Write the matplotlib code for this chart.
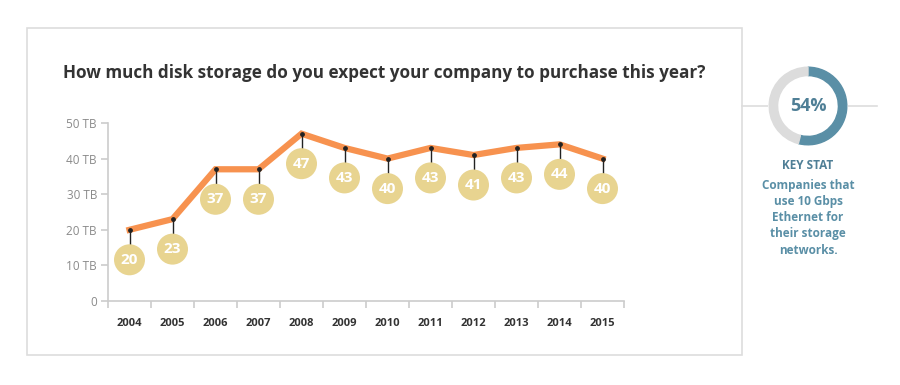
import matplotlib
matplotlib.use("Agg")
import matplotlib.pyplot as plt
from matplotlib.patches import Rectangle, Wedge
from matplotlib.lines import Line2D

plt.rcParams['font.family'] = ['Open Sans', 'DejaVu Sans']

years = ["2004", "2005", "2006", "2007", "2008", "2009",
         "2010", "2011", "2012", "2013", "2014", "2015"]
storage_tb = [20, 23, 37, 37, 47, 43, 40, 43, 41, 43, 44, 40]
yticks = [0, 10, 20, 30, 40, 50]
ytick_labels = ["0", "10 TB", "20 TB", "30 TB", "40 TB", "50 TB"]
key_stat_pct = 54
title = "How much disk storage do you expect your company to purchase this year?"
key_lines = ["Companies that", "use 10 Gbps", "Ethernet for", "their storage", "networks."]

W, H = 900, 385
fig = plt.figure(figsize=(W / 100, H / 100), dpi=100)

def fx(px):
    return px / W

def fy(py):
    return 1 - py / H

# frame
fig.patches.append(Rectangle((fx(27), fy(355)), fx(742) - fx(27), fy(28) - fy(355),
                             transform=fig.transFigure, fill=False,
                             edgecolor='#dddddd', linewidth=1.2))
fig.text(fx(63), fy(73), title, fontsize=12.3, fontweight='bold',
         color='#333333', va='center', ha='left')

# main chart
ax = fig.add_axes([fx(108), fy(301), fx(624) - fx(108), fy(123) - fy(301)])
ax.set_xlim(-0.5, len(years) - 0.5)
ax.set_ylim(0, 50)
for s in ['top', 'right']:
    ax.spines[s].set_visible(False)
for s in ['left', 'bottom']:
    ax.spines[s].set_color('#cccccc')
    ax.spines[s].set_linewidth(1.2)
ax.patch.set_alpha(0)

ax.set_yticks(yticks)
ax.set_yticklabels(ytick_labels)
ax.tick_params(axis='y', length=5, color='#cccccc', width=1.2,
               labelsize=8.5, labelcolor='#8a8a8a', pad=3)
ax.set_xticks([i - 0.5 for i in range(len(years) + 1)], minor=False)
ax.set_xticklabels([])
ax.tick_params(axis='x', length=5, color='#cccccc', width=1.2)
ax.set_xticks(range(len(years)), minor=True)
ax.set_xticklabels(years, minor=True)
ax.tick_params(axis='x', which='minor', length=0, labelsize=8,
               labelcolor='#333333', pad=12)
for lbl in ax.get_xticklabels(minor=True):
    lbl.set_fontweight('bold')

x = list(range(len(years)))
px_per_unit = (301 - 123) / 50.0
offset = 30 / px_per_unit

ax.plot(x, storage_tb, color='#f7924f', linewidth=4.5, solid_joinstyle='miter',
        zorder=2, clip_on=False)
for xi, v in zip(x, storage_tb):
    ax.plot([xi, xi], [v, v - offset], color='#222222', linewidth=1, zorder=3)
ax.scatter(x, storage_tb, s=6, color='#222222', zorder=4)
centers = [v - offset for v in storage_tb]
ax.scatter(x, centers, s=(31 * 0.72) ** 2, color='#e8d490', edgecolors='none', zorder=5)
for xi, c, v in zip(x, centers, storage_tb):
    ax.text(xi, c, str(v), ha='center', va='center', color='white',
            fontsize=11, fontweight='bold', zorder=6)

# key stat side panel
fig.add_artist(Line2D([fx(742), fx(877)], [fy(106), fy(106)],
                      transform=fig.transFigure, color='#dddddd', linewidth=1.2,
                      zorder=-1))
dax = fig.add_axes([fx(768), fy(146), fx(848) - fx(768), fy(66) - fy(146)])
dax.set_xlim(-1, 1)
dax.set_ylim(-1, 1)
dax.set_aspect('equal')
dax.axis('off')
dax.add_patch(plt.Circle((0, 0), 1.0, color='white', zorder=0))
end_angle = 90
start_angle = 90 - 360 * key_stat_pct / 100.0
dax.add_patch(Wedge((0, 0), 0.97, start_angle, end_angle, width=0.21, color='#5a8fa6'))
dax.add_patch(Wedge((0, 0), 0.97, end_angle, start_angle + 360, width=0.21, color='#dcdcdc'))
dax.text(0, 0, "%d%%" % key_stat_pct, ha='center', va='center', fontsize=13,
         fontweight='bold', color='#4f7f96')

fig.text(fx(808), fy(166), "KEY STAT", ha='center', va='center', fontsize=8.5,
         fontweight='bold', color='#4f7f96')
for i, line in enumerate(key_lines):
    fig.text(fx(808), fy(185 + 16.3 * i), line, ha='center', va='center',
             fontsize=8.5, fontweight='bold', color='#5a8fa6')

fig.savefig("out.png", dpi=100)
